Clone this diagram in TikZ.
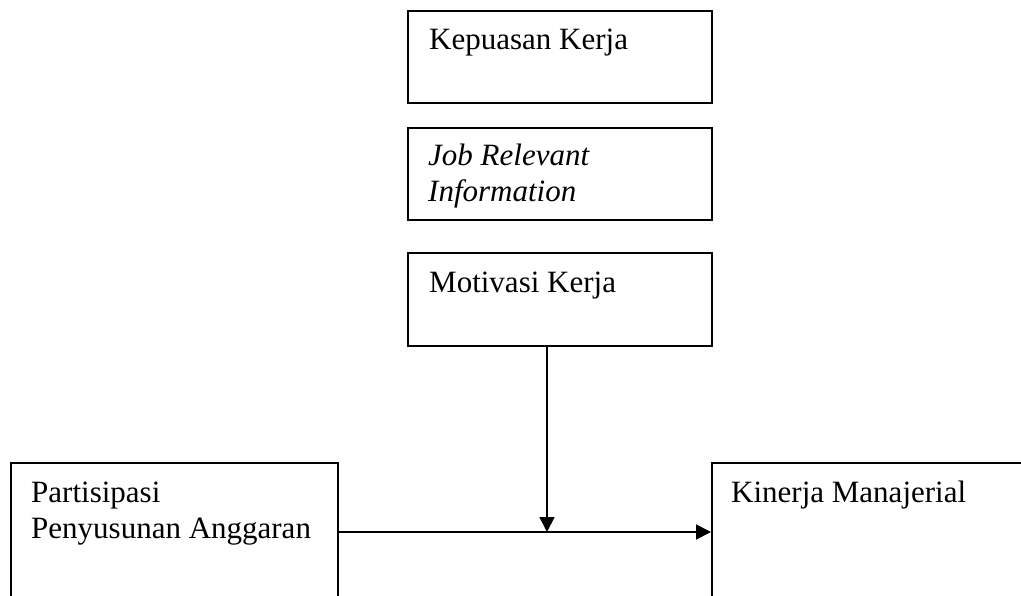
\documentclass[tikz,border=0pt]{standalone}
\usepackage{fontspec}
\setmainfont{Liberation Serif}
\usetikzlibrary{arrows.meta,calc}
\begin{document}
\begin{tikzpicture}[x=1pt,y=-1pt,
  box/.style={draw=black, line width=1.8pt, inner sep=0pt, anchor=north west},
  lbl/.style={inner sep=0pt, font=\fontsize{31}{36.5}\selectfont, align=left, anchor=base west},
  arr/.style={line width=1.8pt, -{Triangle[length=15pt,width=15pt]}}]
\useasboundingbox (0,0) rectangle (1021,595);
\begin{scope}
\clip (0,0) rectangle (1021,595);
\node[box, minimum width=304pt, minimum height=92pt] (kep) at (407,10) {};
\node[box, minimum width=304pt, minimum height=92pt] (jri) at (407,127) {};
\node[box, minimum width=304pt, minimum height=93pt] (mot) at (407,252) {};
\node[box, minimum width=327pt, minimum height=200pt] (par) at (10,462) {};
\node[box, minimum width=400pt, minimum height=200pt] (kin) at (711,462) {};
\node[lbl] (kepT) at (429,49.5) {Kepuasan Kerja};
\node[lbl, font=\fontsize{31}{36.5}\selectfont\itshape] (jriT) at (428,201.5) {Job Relevant\\Information};
\node[lbl] (motT) at (429,292.5) {Motivasi Kerja};
\node[lbl] (parT) at (31,538.5) {Partisipasi\\Penyusunan Anggaran};
\node[lbl] (kinT) at (731,502) {Kinerja Manajerial};
\coordinate (j) at (547,532);
\draw[arr] (mot.south -| j) -- (j);
\draw[arr] (par.east |- j) -- (kin.west |- j);
\end{scope}
\end{tikzpicture}
\end{document}
